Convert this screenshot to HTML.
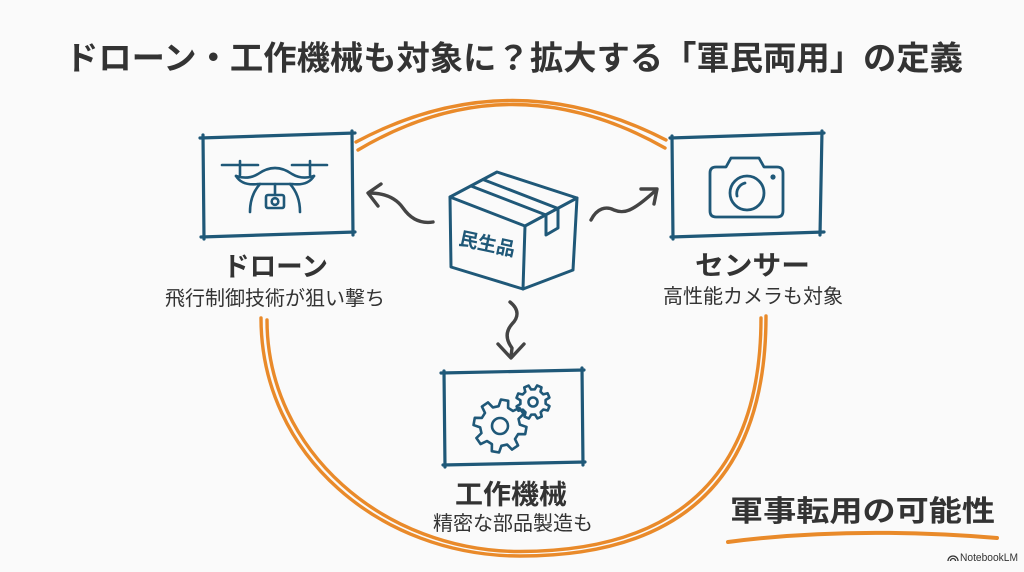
<!DOCTYPE html>
<html><head><meta charset="utf-8">
<style>
html,body{margin:0;padding:0;background:#fafafa;}
svg{display:block;}
text{font-family:"Liberation Sans","Noto Sans CJK JP",sans-serif;}
</style></head>
<body>
<svg width="1024" height="572" viewBox="0 0 1024 572" xmlns="http://www.w3.org/2000/svg">
<rect width="1024" height="572" fill="#fafafa"/>

<!-- Title -->
<text x="65" y="58" font-size="33" font-weight="700" fill="#333" dominant-baseline="central" textLength="898" lengthAdjust="spacingAndGlyphs">ドローン・工作機械も対象に？拡大する「軍民両用」の定義</text>

<!-- Orange arcs -->
<g fill="none" stroke="#e98a2a" stroke-width="3.4" stroke-linecap="round">
<path d="M356 142 Q510 60 666 140"/>
<path d="M358 150 Q510 60 665 148"/>
<path d="M261 318 C261 455 380 556 520 556 C690 556 766 470 766 316"/>
<path d="M267 320 C267 451 384 551.5 520 551.5 C686 551.5 761 466 761 318"/>
</g>

<!-- Boxes -->
<g fill="none" stroke="#1f5878" stroke-width="3.2" stroke-linecap="round" stroke-linejoin="round">
<path d="M200 138 L355 133"/>
<path d="M203 135 L204 239"/>
<path d="M201 237 L355 232"/>
<path d="M352 131 L353 235"/>
<path d="M670 138 L824 133"/>
<path d="M672 136 L673 239"/>
<path d="M671 237 L824 232"/>
<path d="M822 131 L820 235"/>
<path d="M441 373 L584 370"/>
<path d="M444 371 L445 467"/>
<path d="M443 465 L585 462"/>
<path d="M582 368 L583 465"/>
</g>

<!-- Drone icon -->
<g fill="none" stroke="#1f5878" stroke-width="2.6" stroke-linecap="round" stroke-linejoin="round">
<path d="M222 165 L258 165"/>
<path d="M292 165 L327 165"/>
<path d="M240 161 L240 175"/>
<path d="M310 161 L310 175"/>
<path d="M236 176 Q248 180 258 174 Q275 162 292 174 Q302 180 314 176"/>
<path d="M236 176 Q242 186 258 184 L292 184 Q308 186 314 176"/>
<path d="M260 184 Q250 195 250 212"/>
<path d="M290 184 Q300 195 300 212"/>
<rect x="266" y="195" width="18" height="13" rx="2"/>
<circle cx="275" cy="201.5" r="3.3"/>
<path d="M275 184 L275 195"/>
</g>

<!-- Camera icon -->
<g fill="none" stroke="#1f5878" stroke-width="2.8" stroke-linecap="round" stroke-linejoin="round">
<path d="M716 167 L726 167 L731 158 L759 158 L764 167 L777 167 Q783 167 783 173 L783 211 Q783 217 777 217 L716 217 Q710 217 710 211 L710 173 Q710 167 716 167 Z"/>
<circle cx="747" cy="193" r="17"/>
<path d="M737 196 A11 11 0 0 1 745 183"/>
</g>
<circle cx="773" cy="177" r="2.6" fill="#1f5878"/>

<!-- Gears -->
<g fill="none" stroke="#1f5878" stroke-width="2.6" stroke-linejoin="round">
<path vector-effect="non-scaling-stroke" transform="translate(500 426) scale(0.265) rotate(10)" d="M72.77 -18.14 L99.03 -13.92 L99.03 13.92 L72.77 18.14 L64.29 38.63 L79.86 60.18 L60.18 79.86 L38.63 64.29 L18.14 72.77 L13.92 99.03 L-13.92 99.03 L-18.14 72.77 L-38.63 64.29 L-60.18 79.86 L-79.86 60.18 L-64.29 38.63 L-72.77 18.14 L-99.03 13.92 L-99.03 -13.92 L-72.77 -18.14 L-64.29 -38.63 L-79.86 -60.18 L-60.18 -79.86 L-38.63 -64.29 L-18.14 -72.77 L-13.92 -99.03 L13.92 -99.03 L18.14 -72.77 L38.63 -64.29 L60.18 -79.86 L79.86 -60.18 L64.29 -38.63 Z"/>
<circle cx="500" cy="426" r="8"/>
<path vector-effect="non-scaling-stroke" transform="translate(533 402) scale(0.17) rotate(22)" d="M72.77 -18.14 L99.03 -13.92 L99.03 13.92 L72.77 18.14 L64.29 38.63 L79.86 60.18 L60.18 79.86 L38.63 64.29 L18.14 72.77 L13.92 99.03 L-13.92 99.03 L-18.14 72.77 L-38.63 64.29 L-60.18 79.86 L-79.86 60.18 L-64.29 38.63 L-72.77 18.14 L-99.03 13.92 L-99.03 -13.92 L-72.77 -18.14 L-64.29 -38.63 L-79.86 -60.18 L-60.18 -79.86 L-38.63 -64.29 L-18.14 -72.77 L-13.92 -99.03 L13.92 -99.03 L18.14 -72.77 L38.63 -64.29 L60.18 -79.86 L79.86 -60.18 L64.29 -38.63 Z"/>
<circle cx="533" cy="402" r="4.5"/>
</g>

<!-- Cardboard box -->
<g fill="none" stroke="#1f5878" stroke-width="3" stroke-linecap="round" stroke-linejoin="round">
<path d="M450 197 L497 172 L577 198 L525 226 Z"/>
<path d="M450 197 L451 267 L523 289 L573 270 L577 198"/>
<path d="M525 226 L523 289"/>
<path d="M471 186 L546 215 L546 235 L558 228 L558 208.5 L483 179.5"/>
</g>
<text x="487" y="245" font-size="19" font-weight="700" fill="#1f5878" text-anchor="middle" dominant-baseline="central" transform="rotate(12 487 245)">民生品</text>

<!-- Arrows -->
<g fill="none" stroke="#444" stroke-width="3.4" stroke-linecap="round" stroke-linejoin="round">
<path d="M433 222 C420 224 410 218 403 208 C396 198 385 193 369 193"/>
<path d="M381 184 L368 193 L378 206"/>
<path d="M591 220 C597 208 606 206 614 210 C624 214 632 212 655 191"/>
<path d="M641 189 L657 189 L654 204"/>
<path d="M510 302 C520 310 518 318 512 324 C505 332 506 340 512 348 L511 357"/>
<path d="M498 344 L511 358 L524 344"/>
</g>

<!-- Labels -->
<g fill="#333" dominant-baseline="central">
<text x="223" y="267" font-size="27" font-weight="700" textLength="105" lengthAdjust="spacingAndGlyphs">ドローン</text>
<text x="165" y="299" font-size="20" textLength="220" lengthAdjust="spacingAndGlyphs">飛行制御技術が狙い撃ち</text>
<text x="695" y="266" font-size="27" font-weight="700" textLength="115" lengthAdjust="spacingAndGlyphs">センサー</text>
<text x="663" y="297" font-size="20" textLength="180" lengthAdjust="spacingAndGlyphs">高性能カメラも対象</text>
<text x="455" y="495" font-size="27" font-weight="700" textLength="112" lengthAdjust="spacingAndGlyphs">工作機械</text>
<text x="433" y="524" font-size="20" textLength="160" lengthAdjust="spacingAndGlyphs">精密な部品製造も</text>
<text x="730" y="512" font-size="29" font-weight="700" textLength="265" lengthAdjust="spacingAndGlyphs">軍事転用の可能性</text>
</g>
<path d="M728 542 Q850 526 997 538" fill="none" stroke="#e98a2a" stroke-width="4" stroke-linecap="round"/>

<!-- NotebookLM -->
<g fill="none" stroke="#333" stroke-width="1.3">
<path d="M948 561 A5 5 0 0 1 958 561"/>
<path d="M950.5 561 A2.5 2.5 0 0 1 955.5 561"/>
</g>
<text x="960" y="558" font-size="11" fill="#333" dominant-baseline="central" textLength="58" lengthAdjust="spacingAndGlyphs">NotebookLM</text>
</svg>
</body></html>
